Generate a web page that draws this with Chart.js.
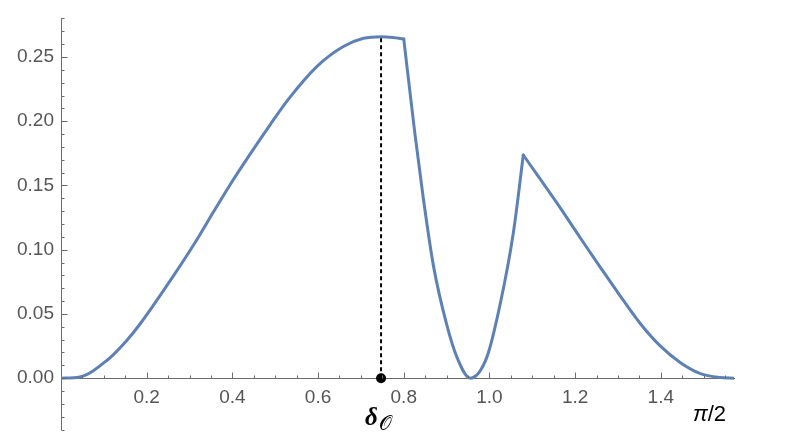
<!DOCTYPE html>
<html>
<head>
<meta charset="utf-8">
<script src="https://cdn.jsdelivr.net/npm/chart.js@4/dist/chart.umd.min.js"></script>
<style>
  html, body { margin: 0; padding: 0; background: #fff; }
  #wrap { width: 788px; height: 448px; }
</style>
</head>
<body>
<div id="wrap"><canvas id="chart"></canvas></div>
<script>
// === DATA ===
// rising arc up to the kink
const riseX = [0, 0.044, 0.107, 0.153, 0.184, 0.262, 0.309, 0.355, 0.394, 0.441, 0.488, 0.531, 0.597, 0.659, 0.706, 0.747, 0.775, 0.800];
const riseY = [0, 0.001, 0.0138, 0.0292, 0.042, 0.0795, 0.1035, 0.1289, 0.1502, 0.1742, 0.1972, 0.2172, 0.2425, 0.2581, 0.2645, 0.2658, 0.2652, 0.264];
// steep drop, dip and spike
const dipX = [0.800, 0.826, 0.846, 0.869, 0.900, 0.924, 0.955, 0.994, 1.025, 1.056, 1.079];
const dipY = [0.264, 0.1903, 0.1391, 0.088, 0.042, 0.0164, 0.000, 0.0164, 0.0576, 0.1136, 0.1737];
// tail down to pi/2
const tailX = [1.079, 1.157, 1.211, 1.258, 1.305, 1.351, 1.398, 1.445, 1.491, 1.538, Math.PI / 2];
const tailY = [0.1737, 0.1366, 0.1097, 0.0867, 0.0641, 0.043, 0.0253, 0.0123, 0.0038, 0.0005, 0.000];

// marked point delta_O and the curve value above it
const deltaX = 0.747;
const deltaPeak = 0.2658;

// labelled ticks
const xTicks = [0.2, 0.4, 0.6, 0.8, 1.0, 1.2, 1.4];
const yTicks = [0, 0.05, 0.10, 0.15, 0.20, 0.25];

// === STYLE ===
const lineColor = "#5E81B5";
const axisColor = "#6b6b6b";
const labelColor = "#555555";
const labelFont = { family: "Liberation Sans", size: 19 };

const pts = (xs, ys) => xs.map((x, i) => ({ x: x, y: ys[i] }));

function curve(xs, ys) {
    return {
        data: pts(xs, ys),
        borderColor: lineColor,
        borderWidth: 3,
        borderCapStyle: "round",
        borderJoinStyle: "round",
        pointRadius: 0,
        cubicInterpolationMode: "monotone",
        fill: false
    };
}

// small inward tick marks (major + minor), Mathematica style
const tickMarks = {
    id: "tickMarks",
    afterDraw(chart) {
        const { ctx, scales: { x, y } } = chart;
        const x0 = Math.round(x.getPixelForValue(0)) + 0.5;
        const y0 = Math.round(y.getPixelForValue(0)) + 0.5;
        const isMajor = (list, v) => list.some(t => Math.abs(t - v) < 1e-6);

        ctx.save();
        ctx.strokeStyle = axisColor;
        ctx.lineWidth = 1;
        ctx.beginPath();
        for (let i = 1; i * 0.05 <= Math.PI / 2; i++) {
            const v = i * 0.05;
            const px = Math.round(x.getPixelForValue(v)) + 0.5;
            const len = isMajor(xTicks, v) ? 6 : 3;
            ctx.moveTo(px, y0);
            ctx.lineTo(px, y0 - len);
        }
        for (let i = -4; i <= 28; i++) {
            const v = i * 0.01;
            const py = Math.round(y.getPixelForValue(v)) + 0.5;
            const len = isMajor(yTicks, v) ? 6 : 3;
            ctx.moveTo(x0, py);
            ctx.lineTo(x0 + len, py);
        }
        ctx.stroke();
        ctx.restore();
    }
};

// axis label pi/2 and the delta_O mark
const annotations = {
    id: "annotations",
    afterDraw(chart) {
        const { ctx, scales: { x, y } } = chart;
        const y0 = y.getPixelForValue(0);
        const xe = x.getPixelForValue(Math.PI / 2);
        const xd = x.getPixelForValue(deltaX);

        ctx.save();
        ctx.fillStyle = "#000";
        ctx.textBaseline = "alphabetic";
        ctx.textAlign = "left";

        ctx.font = 'italic 22px "Liberation Sans"';
        ctx.fillText("\u03C0", xe - 41, y0 + 43);
        const w = ctx.measureText("\u03C0").width;
        ctx.font = '22px "Liberation Sans"';
        ctx.fillText("/2", xe - 41 + w, y0 + 43);

        ctx.font = 'italic bold 25px "Liberation Serif"';
        ctx.fillText("\u03B4", xd - 16, y0 + 47);
        ctx.font = '20px "DejaVu Sans"';
        ctx.fillText("\u{1D4AA}", xd - 2, y0 + 52);
        ctx.restore();
    }
};

// === CHART ===
new Chart(document.getElementById("chart"), {
    type: "line",
    data: {
        datasets: [
            {
                data: [{ x: deltaX, y: 0 }],
                showLine: false,
                pointRadius: 5,
                pointBackgroundColor: "#000",
                pointBorderWidth: 0
            },
            {
                data: [{ x: deltaX, y: 0 }, { x: deltaX, y: deltaPeak }],
                borderColor: "#000",
                borderWidth: 2,
                borderDash: [4, 3],
                pointRadius: 0
            },
            curve(riseX, riseY),
            curve(dipX, dipY),
            curve(tailX, tailY)
        ]
    },
    options: {
        responsive: true,
        maintainAspectRatio: false,
        animation: false,
        layout: { padding: { left: 0, right: 54, top: 13, bottom: 18 } },
        plugins: {
            legend: { display: false },
            tooltip: { enabled: false }
        },
        scales: {
            x: {
                type: "linear",
                position: { y: 0 },
                min: 0,
                max: Math.PI / 2,
                afterFit: s => { s.height = 0; },
                afterBuildTicks: s => { s.ticks = xTicks.map(v => ({ value: v })); },
                grid: { display: false, drawTicks: false },
                border: { display: true, color: axisColor, width: 1 },
                ticks: {
                    padding: 8,
                    autoSkip: false,
                    maxRotation: 0,
                    color: labelColor,
                    font: labelFont,
                    callback: v => v.toFixed(1)
                }
            },
            y: {
                type: "linear",
                position: "left",
                min: -0.04,
                max: 0.28,
                afterFit: s => { s.width = 61; },
                afterBuildTicks: s => { s.ticks = yTicks.map(v => ({ value: v })); },
                grid: { display: false, drawTicks: false },
                border: { display: true, color: axisColor, width: 1 },
                ticks: {
                    padding: 7,
                    color: labelColor,
                    font: labelFont,
                    callback: v => v.toFixed(2)
                }
            }
        }
    },
    plugins: [tickMarks, annotations]
});
</script>
</body>
</html>
